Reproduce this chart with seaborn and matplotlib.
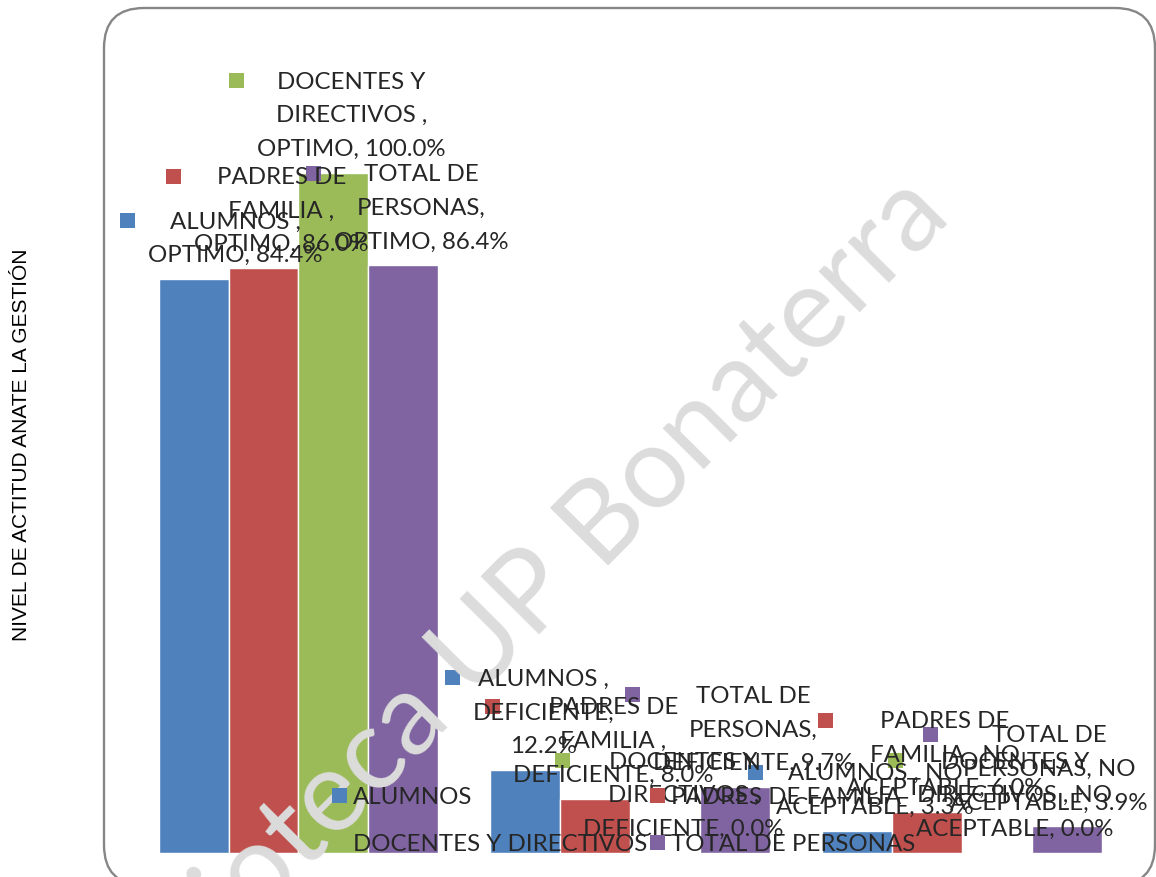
import textwrap
import numpy as np
import pandas as pd
import matplotlib
matplotlib.use("Agg")
import matplotlib.pyplot as plt
from matplotlib.patches import Rectangle, FancyBboxPatch, Patch
from matplotlib.transforms import IdentityTransform
import seaborn as sns

# datos del grafico
categorias = ["OPTIMO", "DEFICIENTE", "NO ACEPTABLE"]
series = ["ALUMNOS ", "PADRES DE FAMILIA ", "DOCENTES Y DIRECTIVOS ", "TOTAL DE PERSONAS"]
alumnos = [84.4, 12.2, 3.3]
padres = [86.0, 8.0, 6.0]
docentes = [100.0, 0.0, 0.0]
total = [86.4, 9.7, 3.9]
colores = ["#4F81BD", "#C0504D", "#9BBB59", "#8064A2"]
ylabel = "NIVEL DE ACTITUD ANATE LA GESTIÓN"
marca = "Biblioteca UP Bonaterra"

W, H, DPI = 1156, 877, 100
FS = 17.3   # tamano de letra de etiquetas y leyenda
LS = 1.745


def fx(px):
    return px / W


def fy(py):
    # py medido desde arriba de la imagen
    return 1 - py / H


sns.set_theme(style="white")
plt.rcParams["font.family"] = ["Lato", "DejaVu Sans"]

df = pd.DataFrame({
    "nivel": categorias * 4,
    "grupo": [s for s in series for _ in categorias],
    "pct": alumnos + padres + docentes + total,
})

fig = plt.figure(figsize=(W / DPI, H / DPI), dpi=DPI)
ax = fig.add_axes([fx(132.6), (H - 853) / H, 995.3 / W, 816 / H])
sns.barplot(data=df, x="nivel", y="pct", hue="grupo", palette=colores,
            saturation=1, width=0.843, errorbar=None, legend=False, ax=ax)
ax.set_xlim(-0.5, 2.5)
ax.set_ylim(0, 120)
ax.axis("off")

# borde redondeado del area del grafico
borde = FancyBboxPatch((104, H - 885), 1051, 877,
                       boxstyle="round,pad=0,rounding_size=40",
                       transform=IdentityTransform(), fill=False,
                       ec="#868686", lw=1.7)
fig.add_artist(borde)

fig.text(fx(22), fy(445), ylabel, rotation=90, ha="center", va="center",
         fontsize=15, family=["Liberation Sans", "DejaVu Sans"], color="black")

# marca de agua
ax.text(fx(930), fy(196), marca, transform=fig.transFigure, rotation=45.2,
        rotation_mode="anchor", ha="right", va="center", fontsize=82,
        color="#dcdcdc", zorder=2.5, clip_on=False)

# etiquetas de datos
valores = [alumnos, padres, docentes, total]
etiquetas = []
for cont, serie, vals, color in zip(ax.containers, series, valores, colores):
    for bar, cat, v in zip(cont, categorias, vals):
        txt = textwrap.fill(f"{serie}, {cat}, {v:.1f}%", width=16)
        xc = bar.get_x() + bar.get_width() / 2
        t = ax.annotate(txt, xy=(xc, bar.get_height()),
                        xytext=(18 * 72 / DPI, 13 * 72 / DPI),
                        textcoords="offset points", ha="center", va="bottom",
                        multialignment="center", fontsize=FS, linespacing=LS,
                        zorder=3)
        etiquetas.append((t, color))

fig.canvas.draw()
r = fig.canvas.get_renderer()
for t, color in etiquetas:
    bb = t.get_window_extent(r)
    dx = 0
    if bb.x0 - 28 < 120:
        dx = 120 - (bb.x0 - 28)
    if bb.x1 > 1148:
        dx = 1148 - bb.x1
    if dx:
        ox, oy = t.xyann
        t.xyann = (ox + dx * 72 / DPI, oy)
    yc = bb.y1 - 9.2
    sq = Rectangle((fx(bb.x0 + dx - 28), (yc - 7.5) / H), 15 / W, 15 / H,
                   transform=fig.transFigure, facecolor=color, lw=0,
                   zorder=2, clip_on=False)
    ax.add_artist(sq)

# leyenda (orden por filas)
orden = [0, 2, 1, 3]
handles = [Patch(facecolor=colores[i], edgecolor="none", label=series[i].strip())
           for i in orden]
ax.legend(handles=handles, ncol=2, loc="center left",
          bbox_to_anchor=(fx(332), fy(821)), bbox_transform=fig.transFigure,
          frameon=False, fontsize=FS, handlelength=0.625, handleheight=0.625,
          handletextpad=0.25, columnspacing=0.1, labelspacing=1.09,
          borderpad=0, borderaxespad=0)

fig.savefig("out.png", dpi=DPI)
